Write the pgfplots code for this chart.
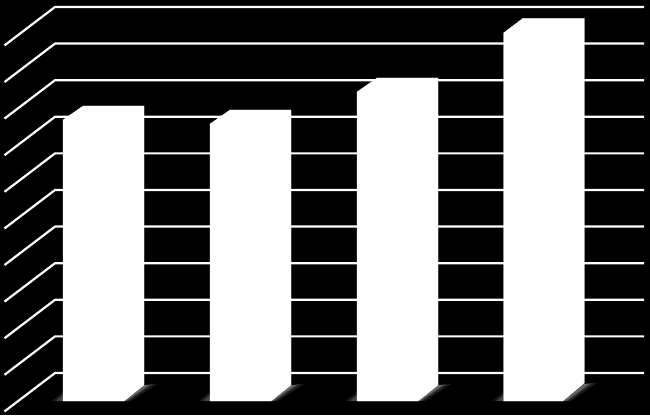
\documentclass[border=0pt]{standalone}
\usepackage{pgfplots}
\pgfplotsset{compat=1.18}
\begin{document}
\begin{tikzpicture}
\begin{axis}[
  scale only axis, width=650pt, height=415pt,
  xmin=0, xmax=650, ymin=-1.1475, ymax=10.191,
  ticks=none, axis line style={draw=none},
  axis background/.style={fill=black},
  unbounded coords=jump,
  grid line/.style={draw=white, line width=2.2pt, line join=round, mark=none},
  bar body/.style={draw=white, line width=0.3pt, fill=white, mark=none},
  sh/.style={draw=none, fill=white, fill opacity=#1, mark=none},
]
% walls: value k on the back wall, running forward to the left
\addplot[grid line] coordinates {
 (4.5,-1.05)(55,0)(644,0)(nan,nan)
 (4.5,-0.05)(55,1)(644,1)(nan,nan)
 (4.5,0.95)(55,2)(644,2)(nan,nan)
 (4.5,1.95)(55,3)(644,3)(nan,nan)
 (4.5,2.95)(55,4)(644,4)(nan,nan)
 (4.5,3.95)(55,5)(644,5)(nan,nan)
 (4.5,4.95)(55,6)(644,6)(nan,nan)
 (4.5,5.95)(55,7)(644,7)(nan,nan)
 (4.5,6.95)(55,8)(644,8)(nan,nan)
 (4.5,7.95)(55,9)(644,9)(nan,nan)
 (4.5,8.95)(55,10)(644,10)
};
% soft shadows on the floor
\addplot[sh=0.10] coordinates {(124,-0.765)(144,-0.33)(157,-0.30)(131,-0.765)} -- cycle;
\addplot[sh=0.14] coordinates {(124,-0.765)(144,-0.33)(153,-0.30)(128,-0.765)} -- cycle;
\addplot[sh=0.22] coordinates {(124,-0.765)(144,-0.33)(149,-0.33)(126,-0.765)} -- cycle;
\addplot[sh=0.10] coordinates {(271,-0.765)(291,-0.33)(304,-0.30)(278,-0.765)} -- cycle;
\addplot[sh=0.14] coordinates {(271,-0.765)(291,-0.33)(300,-0.30)(275,-0.765)} -- cycle;
\addplot[sh=0.22] coordinates {(271,-0.765)(291,-0.33)(296,-0.33)(273,-0.765)} -- cycle;
\addplot[sh=0.10] coordinates {(418,-0.765)(438,-0.33)(451,-0.30)(425,-0.765)} -- cycle;
\addplot[sh=0.14] coordinates {(418,-0.765)(438,-0.33)(447,-0.30)(422,-0.765)} -- cycle;
\addplot[sh=0.22] coordinates {(418,-0.765)(438,-0.33)(443,-0.33)(420,-0.765)} -- cycle;
\addplot[sh=0.10] coordinates {(564,-0.765)(584,-0.30)(597,-0.27)(571,-0.765)} -- cycle;
\addplot[sh=0.14] coordinates {(564,-0.765)(584,-0.30)(593,-0.27)(568,-0.765)} -- cycle;
\addplot[sh=0.22] coordinates {(564,-0.765)(584,-0.30)(589,-0.30)(566,-0.765)} -- cycle;
\addplot[sh=0.10] coordinates {(63,-0.765)(52,-0.765)(63,-0.52)} -- cycle;
\addplot[sh=0.18] coordinates {(63,-0.765)(56,-0.765)(63,-0.60)} -- cycle;
\addplot[sh=0.10] coordinates {(210,-0.765)(199,-0.765)(210,-0.52)} -- cycle;
\addplot[sh=0.18] coordinates {(210,-0.765)(203,-0.765)(210,-0.60)} -- cycle;
\addplot[sh=0.10] coordinates {(357,-0.765)(346,-0.765)(357,-0.52)} -- cycle;
\addplot[sh=0.18] coordinates {(357,-0.765)(350,-0.765)(357,-0.60)} -- cycle;
\addplot[sh=0.10] coordinates {(503.5,-0.765)(492.5,-0.765)(503.5,-0.52)} -- cycle;
\addplot[sh=0.18] coordinates {(503.5,-0.765)(496.5,-0.765)(503.5,-0.60)} -- cycle;
% bars
\addplot[bar body] coordinates {(63,-0.765)(63,6.913)(83,7.295)(144,7.295)(144,-0.328)(124,-0.765)} -- cycle;
\addplot[bar body] coordinates {(210,-0.765)(210,6.803)(230,7.186)(291,7.186)(291,-0.328)(271,-0.765)} -- cycle;
\addplot[bar body] coordinates {(357,-0.765)(357,7.678)(377,8.060)(438,8.060)(438,-0.328)(418,-0.765)} -- cycle;
\addplot[bar body] coordinates {(503.5,-0.765)(503.5,9.290)(523,9.691)(584.3,9.691)(584.3,-0.273)(563,-0.765)} -- cycle;
\end{axis}
\end{tikzpicture}
\end{document}
